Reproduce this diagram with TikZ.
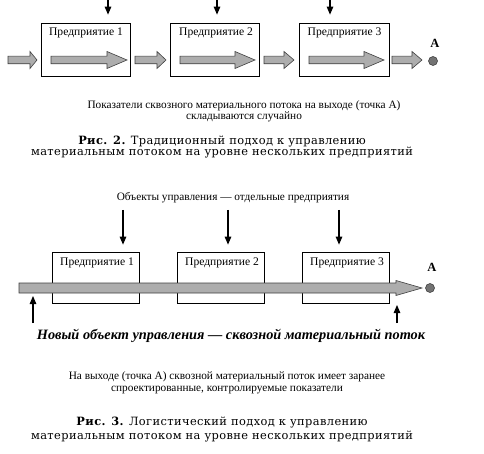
\documentclass[tikz,border=0pt]{standalone}
\usepackage{fontspec}
\setmainfont{Liberation Serif}
\newfontfamily\capfont[LetterSpace=3.5]{DejaVu Serif}
\usetikzlibrary{arrows.meta}
\newcommand\fatarrow[6]{%
  \filldraw[fatstyle] (#1,#3-#4) -- (#2-#6,#3-#4) -- (#2-#6,#3-#5) -- (#2,#3)
    -- (#2-#6,#3+#5) -- (#2-#6,#3+#4) -- (#1,#3+#4) -- cycle;}
\begin{document}
\begin{tikzpicture}[x=1pt,y=-1pt,
  box/.style={draw, line width=0.7pt, minimum height=#1, inner sep=0pt},
  blabel/.style={font=\fontsize{11.6}{12}\selectfont, inner sep=0pt},
  fatstyle/.style={fill=black!32, draw=black!75, line width=0.6pt},
  thinarr/.style={line width=1.1pt, -{Triangle[length=8pt,width=6.5pt]}},
  pt/.style={circle, draw=black!80, fill=black!55, minimum size=9pt, inner sep=0pt, line width=0.5pt},
  alabel/.style={font=\bfseries\fontsize{12.5}{12}\selectfont, inner sep=0pt},
  small/.style={font=\fontsize{11.3}{#1}\selectfont, align=center, inner sep=0pt},
  captext/.style={font=\capfont\fontsize{11.4}{#1}\selectfont, align=center, inner sep=0pt}]
\useasboundingbox (0,0) rectangle (484,454);
\fill[white] (0,0) rectangle (484,454);

% ---------- Figure 2 ----------
\node[box=53pt, minimum width=89pt] (b1) at (85.5,49.5) {};
\node[box=53pt, minimum width=89pt] (b2) at (214.5,49.5) {};
\node[box=53pt, minimum width=90pt] (b3) at (344,49.5) {};
\node[blabel] (t1) at (86,33) {Предприятие 1};
\node[blabel] (t2) at (216,33) {Предприятие 2};
\node[blabel] (t3) at (344.5,33) {Предприятие 3};

\coordinate (d1) at (108,0);
\coordinate (d2) at (217,0);
\coordinate (d3) at (330,0);
\draw[thinarr, shorten >=8pt] (d1) -- (d1 |- b1.north);
\draw[thinarr, shorten >=8pt] (d2) -- (d2 |- b2.north);
\draw[thinarr, shorten >=8pt] (d3) -- (d3 |- b3.north);

\fatarrow{8}{37}{60}{3.8}{8.5}{7}
\fatarrow{51}{127}{60}{3.8}{8.5}{20}
\fatarrow{135}{166}{60}{3.8}{8.5}{9}
\fatarrow{180}{255}{60}{3.8}{8.5}{20}
\fatarrow{264}{294}{60}{3.8}{8.5}{10}
\fatarrow{309}{384}{60}{3.8}{8.5}{20}
\fatarrow{392}{422}{60}{3.8}{8.5}{10}

\node[pt] (A1) at (433,61) {};
\node[alabel] (lA1) at (435,43) {A};

\node[small=9.5] (n1) at (244,111.5) {Показатели сквозного материального потока на выходе (точка А)\\складываются случайно};
\node[captext=11.5] (c2) at (222,147) {{\bfseries Рис. 2.} Традиционный подход к управлению\\материальным потоком на уровне нескольких предприятий};

% ---------- Figure 3 ----------
\node[small=12] (o1) at (233,198) {Объекты управления — отдельные предприятия};
\node[box=51pt, minimum width=87pt] (c1) at (95.5,277.5) {};
\node[box=51pt, minimum width=87pt] (cc2) at (220.5,277.5) {};
\node[box=51pt, minimum width=87pt] (cc3) at (345.5,277.5) {};
\node[blabel] (l1) at (97,263) {Предприятие 1};
\node[blabel] (l2) at (222,263) {Предприятие 2};
\node[blabel] (l3) at (347,263) {Предприятие 3};

\coordinate (e1) at (123,210);
\coordinate (e2) at (228,210);
\coordinate (e3) at (339,210);
\draw[thinarr, shorten >=7pt] (e1) -- (e1 |- c1.north);
\draw[thinarr, shorten >=7pt] (e2) -- (e2 |- cc2.north);
\draw[thinarr, shorten >=7pt] (e3) -- (e3 |- cc3.north);

\fatarrow{19}{422}{288}{5}{7.5}{26}

\node[pt] (A2) at (430,288) {};
\node[alabel] (lA2) at (432,267) {A};

\node[font=\bfseries\itshape\fontsize{14.3}{14}\selectfont, inner sep=0pt] (nw) at (231,336) {Новый объект управления — сквозной материальный поток};
\coordinate (u1) at (33,323);
\coordinate (u2) at (397,323);
\draw[thinarr] (u1) -- (33,296);
\draw[thinarr] (u2) -- (397,305);

\node[small=12.5] (n2) at (227,383) {На выходе (точка А) сквозной материальный поток имеет заранее\\спроектированные, контролируемые показатели};
\node[captext=14] (c3) at (222,430) {{\bfseries Рис. 3.} Логистический подход к управлению\\материальным потоком на уровне нескольких предприятий};
\end{tikzpicture}
\end{document}
